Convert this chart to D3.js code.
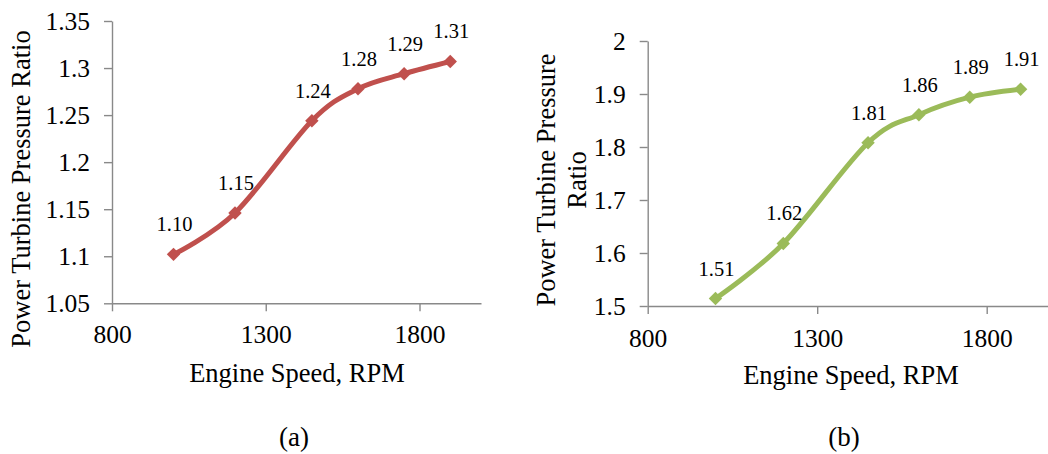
<!DOCTYPE html>
<html><head><meta charset="utf-8">
<script src="https://cdn.jsdelivr.net/npm/d3@7"></script>
<style>
html,body{margin:0;padding:0;background:#fff;overflow:hidden}
svg{display:block}
text{font-family:"Liberation Serif","Times New Roman",serif;fill:#000}
</style></head>
<body>
<svg id="c" width="1048" height="454"></svg>
<script>
// Data
const rpm = [1000, 1200, 1450, 1600, 1750, 1900];
const ratioA = [1.102, 1.146, 1.244, 1.278, 1.294, 1.307];
const ratioB = [1.514, 1.618, 1.808, 1.861, 1.894, 1.909];
const xTicks = [800, 1300, 1800];
const yTicksA = [1.05, 1.1, 1.15, 1.2, 1.25, 1.3, 1.35];
const yTicksB = [1.5, 1.6, 1.7, 1.8, 1.9, 2];
const captions = ["(a)", "(b)"];
const xTitle = "Engine Speed, RPM";
const yTitleA = ["Power Turbine Pressure Ratio"];
const yTitleB = ["Power Turbine Pressure", "Ratio"];

const svg = d3.select("#c");
const axisColor = "#898989";
const serif = '"Liberation Serif","Times New Roman",serif';

function panel(cfg) {
  const g = svg.append("g");
  const x = d3.scaleLinear().domain([800, 2000]).range([cfg.x0, cfg.x1]);
  const y = d3.scaleLinear().domain(cfg.ydom).range([cfg.y1, cfg.y0]);

  const ax = g.append("g").attr("transform", `translate(0,${cfg.y1})`)
    .call(d3.axisBottom(x).tickValues(xTicks).tickSize(8).tickSizeOuter(0).tickPadding(0).tickFormat(d3.format("d")));
  const ay = g.append("g").attr("transform", `translate(${cfg.x0},0)`)
    .call(d3.axisLeft(y).tickValues(cfg.yticks).tickSize(8).tickSizeOuter(0).tickPadding(14).tickFormat(d => String(d)));
  [ax, ay].forEach(a => {
    a.attr("font-family", null).attr("font-size", null);
    a.select(".domain").attr("stroke", axisColor).attr("stroke-width", 1.4);
    a.selectAll(".tick line").attr("stroke", axisColor).attr("stroke-width", 1.4);
    a.selectAll(".tick text").style("font-family", serif).style("font-size", "25.5px").attr("fill", "#000");
  });
  ax.selectAll(".tick text").attr("y", cfg.xtickBase - cfg.y1).attr("dy", null);
  ay.selectAll(".tick text").attr("dy", "0.34em");

  const pts = rpm.map((r, i) => [r, cfg.vals[i]]);
  const line = d3.line().x(d => x(d[0])).y(d => y(d[1])).curve(d3.curveCatmullRom.alpha(0));
  g.append("path").datum(pts).attr("d", line).attr("fill", "none")
    .attr("stroke", cfg.color).attr("stroke-width", 5).attr("stroke-linejoin", "round");
  g.selectAll(".mk").data(pts).enter().append("path")
    .attr("d", d3.symbol().type(d3.symbolDiamond2).size(115))
    .attr("transform", d => `translate(${x(d[0])},${y(d[1])})`)
    .attr("fill", cfg.color);
  g.selectAll(".lb").data(pts).enter().append("text")
    .attr("x", d => x(d[0]) + 1).attr("y", d => y(d[1]) - 23)
    .attr("text-anchor", "middle").style("font-size", "20.5px")
    .text(d => d3.format(".2f")(d[1]));

  // axis titles
  g.append("text").attr("x", cfg.xtx).attr("y", cfg.xty).attr("text-anchor", "middle")
    .style("font-size", "26.5px").text(xTitle);
  const yt = g.append("text").attr("transform", `translate(${cfg.ytx},${cfg.yty}) rotate(-90)`)
    .attr("text-anchor", "middle").style("font-size", "26.5px");
  cfg.ytitle.forEach((t, i) => {
    yt.append("tspan").attr("x", 0).attr("y", i * 31).text(t);
  });
  g.append("text").attr("x", cfg.capx).attr("y", 446).attr("text-anchor", "middle")
    .style("font-size", "27px").text(cfg.cap);
}

panel({x0: 112, x1: 481, y0: 21, y1: 303.3, ydom: [1.05, 1.35], yticks: yTicksA, vals: ratioA, xtickBase: 343,
  color: "#C0504D", xtx: 297, xty: 382, ytx: 30, yty: 189, ytitle: yTitleA, capx: 294, cap: captions[0]});
panel({x0: 647.7, x1: 1054.5, y0: 41, y1: 306, ydom: [1.5, 2], yticks: yTicksB, vals: ratioB, xtickBase: 346.5,
  color: "#9BBB59", xtx: 851, xty: 384, ytx: 555, yty: 180, ytitle: yTitleB, capx: 844, cap: captions[1]});
</script>
</body></html>
